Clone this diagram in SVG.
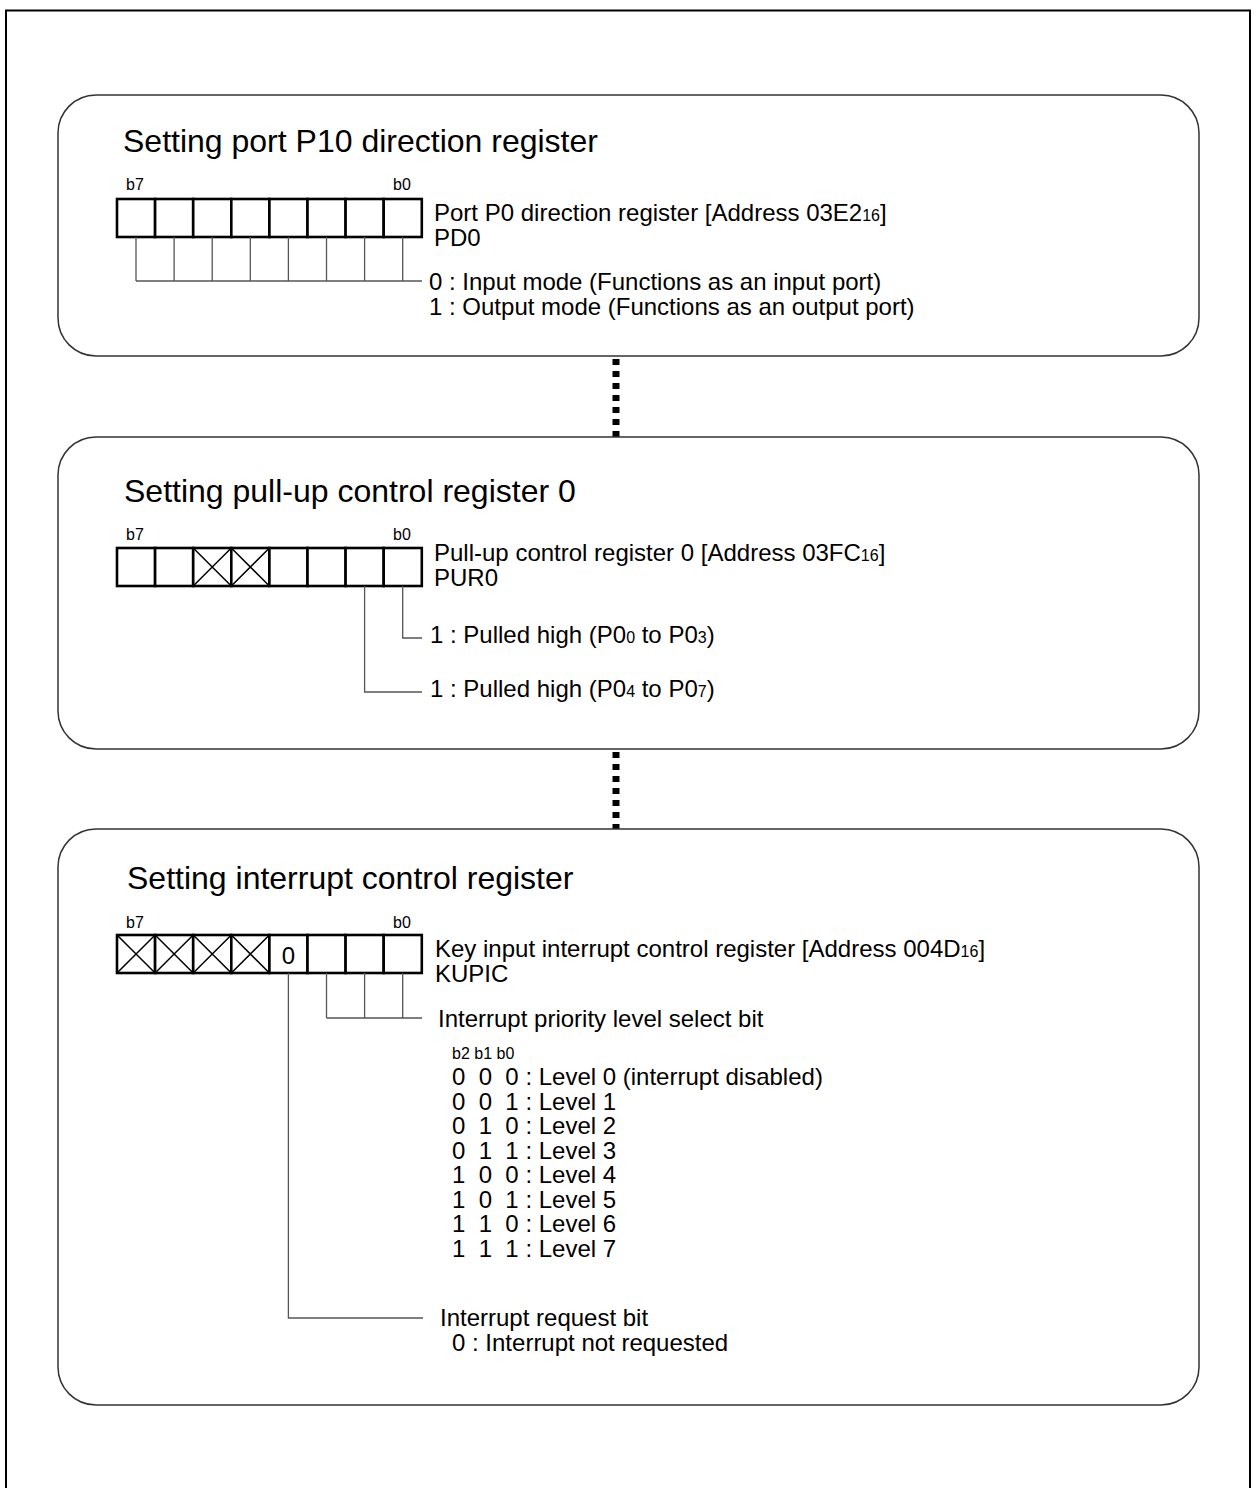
<svg xmlns="http://www.w3.org/2000/svg" width="1257" height="1488" viewBox="0 0 1257 1488">
<defs>
<style>
text{font-family:"Liberation Sans",Arial,sans-serif;fill:#000}
.title{font-size:32px}
.t{font-size:24px}
.s{font-size:16px}
.sub{font-size:16px}
.bit{font-size:16px}
.box{fill:none;stroke:#333;stroke-width:1.5}
.cell{fill:#fff;stroke:#000;stroke-width:2.6}
.x{stroke:#000;stroke-width:1.5}
.ln{fill:none;stroke:#555;stroke-width:1.3}
.dot{stroke:#000;stroke-width:7;stroke-dasharray:6 6}
.pre{white-space:pre}
</style>
<g id="cells8">
<rect class="cell" x="117" y="0" width="38.1" height="38"/>
<rect class="cell" x="155.1" y="0" width="38.1" height="38"/>
<rect class="cell" x="193.2" y="0" width="38.1" height="38"/>
<rect class="cell" x="231.3" y="0" width="38.1" height="38"/>
<rect class="cell" x="269.4" y="0" width="38.1" height="38"/>
<rect class="cell" x="307.5" y="0" width="38.1" height="38"/>
<rect class="cell" x="345.6" y="0" width="38.1" height="38"/>
<rect class="cell" x="383.7" y="0" width="38.1" height="38"/>
</g>
</defs>
<rect x="6" y="10.5" width="1244" height="1500" fill="none" stroke="#000" stroke-width="2"/>

<g id="connectors">
<line class="dot" x1="616" y1="359" x2="616" y2="437"/>
<line class="dot" x1="616" y1="752" x2="616" y2="829"/>
</g>

<g id="box1">
<rect class="box" x="58" y="95" width="1141" height="261" rx="38"/>
<text class="title" x="123" y="152">Setting port P10 direction register</text>
<text class="bit" x="126" y="190">b7</text>
<text class="bit" x="393" y="190">b0</text>
<use href="#cells8" y="199"/>
<path class="ln" d="M136 237V281M174.1 237V281M212.2 237V281M250.3 237V281M288.4 237V281M326.5 237V281M364.6 237V281M402.7 237V281M136 281H422"/>
<text class="t" x="434" y="221">Port P0 direction register [Address 03E2<tspan class="sub">16</tspan>]</text>
<text class="t" x="434" y="246">PD0</text>
<text class="t" x="429" y="290">0 : Input mode (Functions as an input port)</text>
<text class="t" x="429" y="315">1 : Output mode (Functions as an output port)</text>
</g>

<g id="box2">
<rect class="box" x="58" y="437" width="1141" height="312" rx="38"/>
<text class="title" x="124" y="502">Setting pull-up control register 0</text>
<text class="bit" x="126" y="540">b7</text>
<text class="bit" x="393" y="540">b0</text>
<use href="#cells8" y="548"/>
<path class="x" d="M193.2 548L231.3 586M231.3 548L193.2 586M231.3 548L269.4 586M269.4 548L231.3 586"/>
<path class="ln" d="M402.7 586V638H422M364.6 586V692H422"/>
<text class="t" x="434" y="561">Pull-up control register 0 [Address 03FC<tspan class="sub">16</tspan>]</text>
<text class="t" x="434" y="586">PUR0</text>
<text class="t" x="430" y="643">1 : Pulled high (P0<tspan class="sub">0</tspan> to P0<tspan class="sub">3</tspan>)</text>
<text class="t" x="430" y="697">1 : Pulled high (P0<tspan class="sub">4</tspan> to P0<tspan class="sub">7</tspan>)</text>
</g>

<g id="box3">
<rect class="box" x="58" y="829" width="1141" height="576" rx="38"/>
<text class="title" x="127" y="889">Setting interrupt control register</text>
<text class="bit" x="126" y="928">b7</text>
<text class="bit" x="393" y="928">b0</text>
<use href="#cells8" y="935"/>
<path class="x" d="M117 935L155.1 973M155.1 935L117 973M155.1 935L193.2 973M193.2 935L155.1 973M193.2 935L231.3 973M231.3 935L193.2 973M231.3 935L269.4 973M269.4 935L231.3 973"/>
<text class="t" x="288.5" y="964" text-anchor="middle">0</text>
<path class="ln" d="M326.5 973V1018M364.6 973V1018M402.7 973V1018M326.5 1018H422M288.4 973V1318H423"/>
<text class="t" x="435" y="957">Key input interrupt control register [Address 004D<tspan class="sub">16</tspan>]</text>
<text class="t" x="435" y="982">KUPIC</text>
<text class="t" x="438" y="1027">Interrupt priority level select bit</text>
<text class="s" x="452" y="1059">b2 b1 b0</text>
<text class="t pre" x="452" y="1085">0  0  0 : Level 0 (interrupt disabled)</text>
<text class="t pre" x="452" y="1109.5">0  0  1 : Level 1</text>
<text class="t pre" x="452" y="1134">0  1  0 : Level 2</text>
<text class="t pre" x="452" y="1158.5">0  1  1 : Level 3</text>
<text class="t pre" x="452" y="1183">1  0  0 : Level 4</text>
<text class="t pre" x="452" y="1207.5">1  0  1 : Level 5</text>
<text class="t pre" x="452" y="1232">1  1  0 : Level 6</text>
<text class="t pre" x="452" y="1256.5">1  1  1 : Level 7</text>
<text class="t" x="440" y="1326">Interrupt request bit</text>
<text class="t" x="452" y="1351">0 : Interrupt not requested</text>
</g>
</svg>
